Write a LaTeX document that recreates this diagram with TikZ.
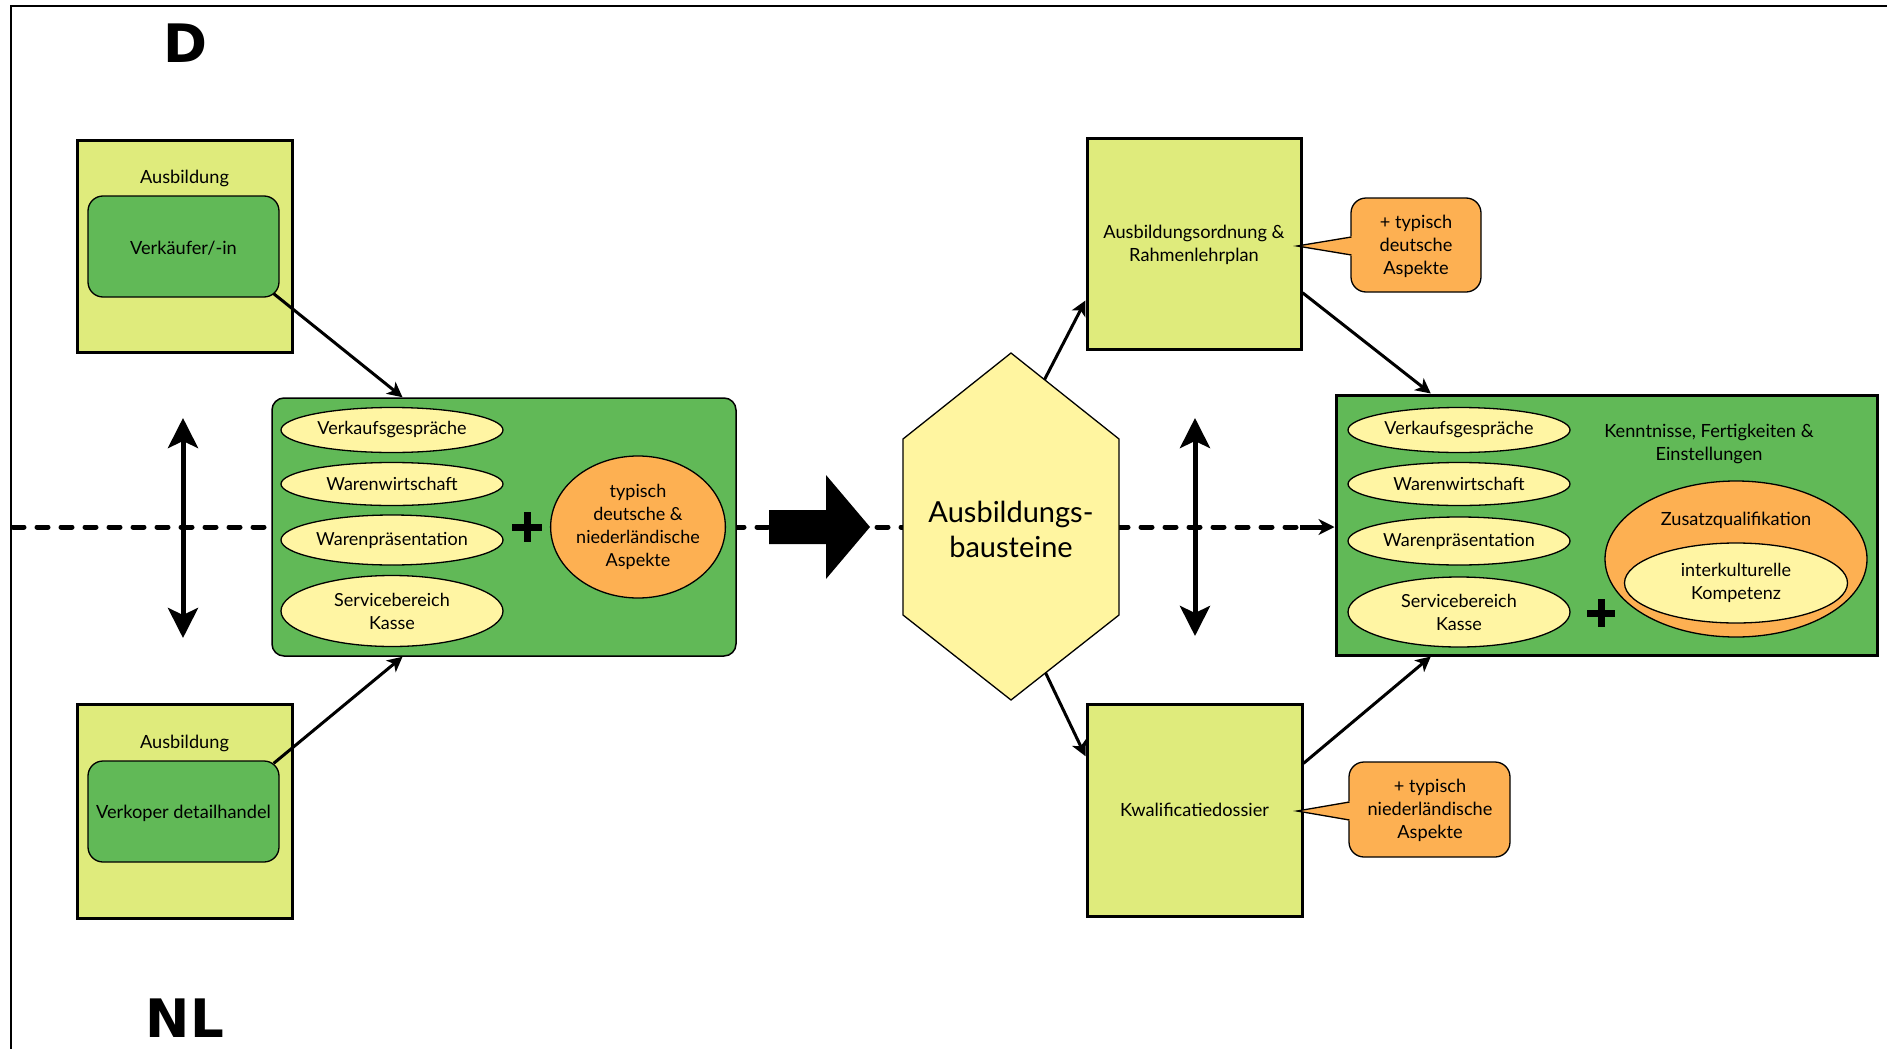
\documentclass[tikz,border=0pt]{standalone}
\usepackage{fontspec}
\setmainfont{Lato}
\newfontfamily\heavyfont{DejaVu Sans}
\usetikzlibrary{arrows.meta,shapes.geometric,calc}
\definecolor{ygreen}{RGB}{223,235,124}
\definecolor{mgreen}{RGB}{97,185,87}
\definecolor{lyellow}{RGB}{255,245,163}
\definecolor{hexyellow}{RGB}{255,245,160}
\definecolor{orng}{RGB}{253,176,82}
\tikzset{
  ybox/.style={draw, line width=3pt, fill=ygreen, inner sep=0pt},
  gbox/.style={draw, line width=1.3pt, fill=mgreen, rounded corners=15pt, minimum width=191pt, minimum height=101pt, inner sep=0pt},
  oval/.style={ellipse, draw, line width=1.3pt, fill=lyellow, inner sep=0pt, align=center, font=\fontsize{18}{23}\selectfont},
  obig/.style={ellipse, draw, line width=1.3pt, fill=orng, inner sep=0pt, align=center, font=\fontsize{18}{23}\selectfont},
  lbl/.style={align=center, font=\fontsize{18.2}{23}\selectfont, inner sep=0pt},
  callout/.style={draw, line width=1.3pt, fill=orng, rounded corners=15pt, inner sep=0pt, align=center},
  conn/.style={line width=3pt, -{Stealth[length=15pt,width=15pt,inset=4pt]}},
  dbl/.style={line width=5pt, {Stealth[length=30pt,width=30pt,inset=7pt]}-{Stealth[length=30pt,width=30pt,inset=7pt]}},
  plusbar/.style={line width=7pt},
  big/.style={font=\heavyfont\fontsize{53}{60}\selectfont\bfseries, inner sep=0pt},
}
\begin{document}
\begin{tikzpicture}[x=1pt,y=-1pt]
\useasboundingbox (0,0) rectangle (1887,1049);
% frame
\draw[line width=2.5pt] (11,1049) -- (11,6) -- (1887,6);
% labels D / NL
\node[big] (D) at (185,43) {D};
\node[big] (NL) at (185,1018) {NL};

% left boxes
\node[ybox, minimum width=215pt, minimum height=212pt] (ybD) at (184.5,246) {};
\node[lbl] (ausbD) at (184.5,178) {Ausbildung};
\node[gbox] (vk) at (183.5,246.5) {};
\node[lbl] (vkt) at (183.5,248) {Verkäufer/-in};

\node[ybox, minimum width=215pt, minimum height=214pt] (ybNL) at (184.5,811) {};
\node[lbl] (ausbNL) at (184.5,743) {Ausbildung};
\node[gbox] (vd) at (183.5,811.5) {};
\node[lbl] (vdt) at (183.5,813) {Verkoper detailhandel};

% right green box and main dashed line
\node[draw, line width=3pt, fill=mgreen, minimum width=541pt, minimum height=260pt, inner sep=0pt] (rbox) at (1606.5,525) {};
\draw[line width=5pt, dash pattern=on 11pt off 13pt, line cap=round] (13,527) -- (1300,527);
\draw[line width=5pt, -{Stealth[length=16pt,width=16pt,inset=5pt]}] (1300,527) -- (rbox.west|-0,527);

% left main box
\node[draw, line width=1.5pt, fill=mgreen, rounded corners=12pt, minimum width=464pt, minimum height=258pt, inner sep=0pt] (main) at (504,527) {};
\node[oval, minimum width=222pt, minimum height=45pt] (l1) at (392,430) {Verkaufsgespräche};
\node[oval, minimum width=222pt, minimum height=43pt] (l2) at (392,484) {Warenwirtschaft};
\node[oval, minimum width=222pt, minimum height=50pt] (l3) at (392,540) {Warenpräsentation};
\node[oval, minimum width=222pt, minimum height=71pt] (l4) at (392,611) {Servicebereich\\Kasse};
\draw[plusbar] (512,527) -- (542,527);
\draw[plusbar] (527,512) -- (527,542);
\node[obig, minimum width=171pt, minimum height=142pt] (asp) at (638,527) {typisch\\deutsche \&\\niederländische\\Aspekte};

% big block arrow
\fill (769,510) -- (826,510) -- (826,475) -- (870,527) -- (826,579) -- (826,544) -- (769,544) -- cycle;

% hexagon
\coordinate (hT) at (1011,353);
\coordinate (hUR) at (1119,439);
\coordinate (hLR) at (1119,615);
\coordinate (hB) at (1011,700);
\coordinate (hLL) at (903,615);
\coordinate (hUL) at (903,439);
\draw[line width=1.3pt, fill=hexyellow] (hT) -- (hUR) -- (hLR) -- (hB) -- (hLL) -- (hUL) -- cycle;
\node[align=center, font=\fontsize{29}{35}\selectfont, inner sep=0pt] (hex) at (1011,529) {Ausbildungs-\\bausteine};

% top & bottom right boxes
\node[ybox, minimum width=214pt, minimum height=211pt] (tb) at (1194,243.5) {};
\node[lbl] (tbt) at (1194,245) {Ausbildungsordnung \&\\Rahmenlehrplan};
\node[ybox, minimum width=215pt, minimum height=212pt] (bb) at (1194.5,810) {};
\node[lbl] (bbt) at (1194.5,810) {Kwalificatiedossier};

% callouts
\node[callout, minimum width=130pt, minimum height=94pt] (c1) at (1416,245) {};
\fill[orng] (1353,236) -- (1297,246) -- (1353,256) -- cycle;
\draw[line width=1.3pt] (1351.5,237) -- (1297,246) -- (1351.5,255);
\node[lbl] (c1t) at (1416,246) {+ typisch\\deutsche\\Aspekte};
\node[callout, minimum width=161pt, minimum height=95pt] (c2) at (1429.5,809.5) {};
\fill[orng] (1351,801) -- (1297,811) -- (1351,821) -- cycle;
\draw[line width=1.3pt] (1349.5,802) -- (1297,811) -- (1349.5,820);
\node[lbl] (c2t) at (1430,810) {+ typisch\\niederländische\\Aspekte};

% right box content
\node[oval, minimum width=222pt, minimum height=45pt] (r1) at (1459,430) {Verkaufsgespräche};
\node[oval, minimum width=222pt, minimum height=43pt] (r2) at (1459,484) {Warenwirtschaft};
\node[oval, minimum width=222pt, minimum height=48pt] (r3) at (1459,541) {Warenpräsentation};
\node[oval, minimum width=222pt, minimum height=70pt] (r4) at (1459,612) {Servicebereich\\Kasse};
\node[lbl] (kfe) at (1709,444) {Kenntnisse, Fertigkeiten \&\\Einstellungen};
\node[obig, minimum width=262pt, minimum height=156pt] (zq) at (1736,559) {};
\node[lbl] (zqt) at (1736,520) {Zusatzqualifikation};
\node[oval, minimum width=223pt, minimum height=80pt] (ik) at (1736,583) {interkulturelle\\Kompetenz};
\draw[plusbar] (1587,613) -- (1615,613);
\draw[plusbar] (1601,599) -- (1601,627);

% double arrows
\coordinate (dlT) at (183,418);
\coordinate (dlB) at (183,638);
\draw[dbl] (dlT) -- (dlB);
\coordinate (drT) at (1195,418);
\coordinate (drB) at (1195,636);
\draw[dbl] (drT) -- (drB);

% connectors
\draw[conn] (vk.south east) ++(-6,-4) coordinate (vkc) (vkc) -- ($(main.north west)!0.282!(main.north east)$);
\draw[conn] (vd.north east) ++(-6,3) coordinate (vdc) (vdc) -- ($(main.south west)!0.282!(main.south east)$);
\draw[conn] ($(hT)!0.31!(hUR)$) -- ($(tb.north west)!0.766!(tb.south west)$);
\draw[conn] ($(hB)!0.32!(hLR)$) -- ($(bb.north west)!0.25!(bb.south west)$);
\draw[conn] ($(tb.north east)!0.73!(tb.south east)$) -- ($(rbox.north west)!0.177!(rbox.north east)$);
\draw[conn] ($(bb.north east)!0.283!(bb.south east)$) -- ($(rbox.south west)!0.177!(rbox.south east)$);
\end{tikzpicture}
\end{document}
